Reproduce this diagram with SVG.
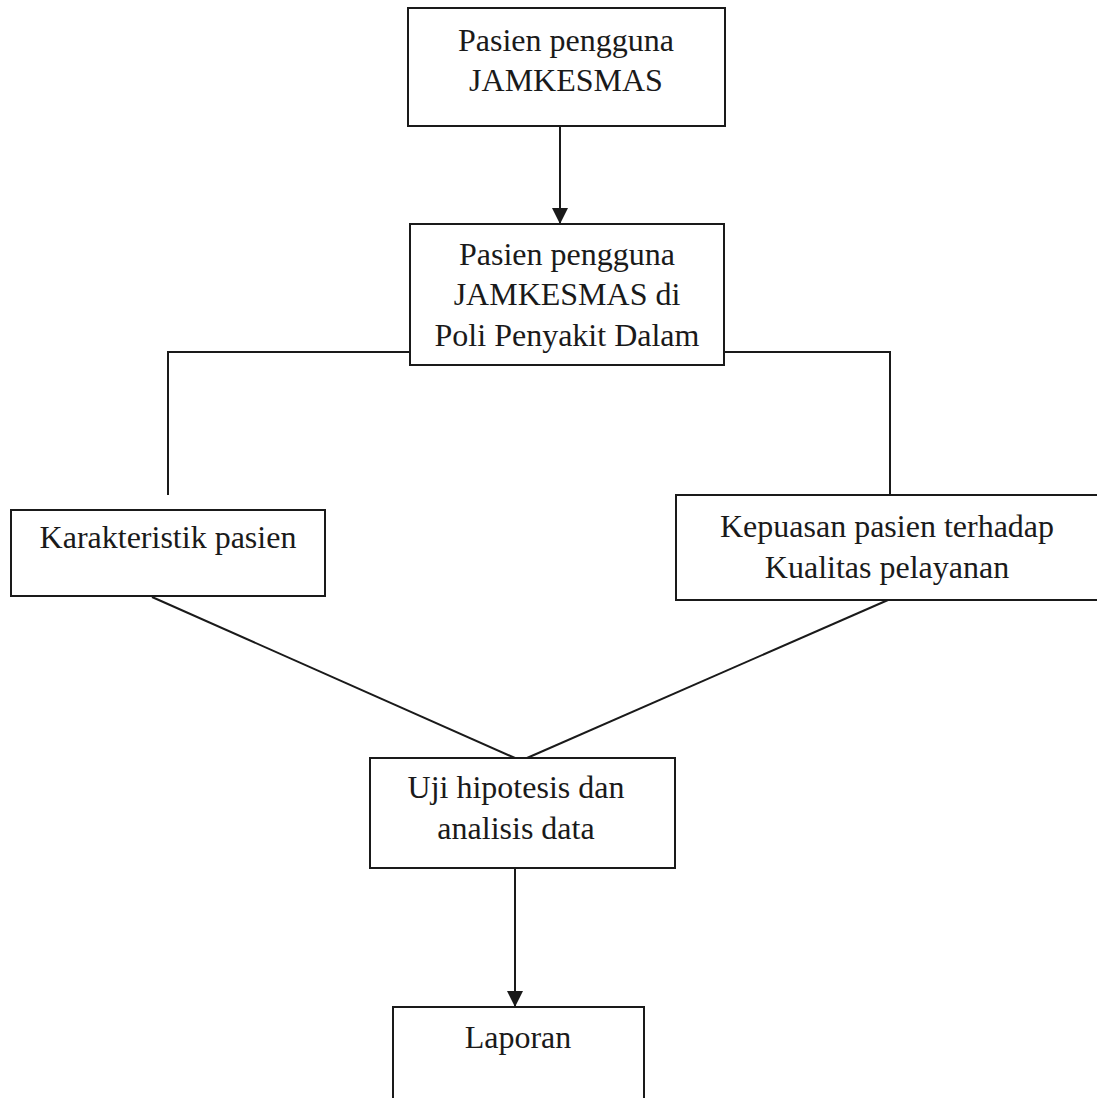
<svg xmlns="http://www.w3.org/2000/svg" width="1097" height="1098" viewBox="0 0 1097 1098">
<defs>
<style>
.box{fill:#fff;stroke:#1a1a1a;stroke-width:2}
.t{font-family:"Liberation Serif","Times New Roman",serif;font-size:32px;fill:#1a1a1a;text-anchor:middle}
.c{fill:none;stroke:#1a1a1a;stroke-width:2}
</style>
<marker id="ah" viewBox="0 0 10 10" refX="10" refY="5" markerWidth="16" markerHeight="16" markerUnits="userSpaceOnUse" orient="auto">
<path d="M0,0 L10,5 L0,10 Z" fill="#1a1a1a"/>
</marker>
</defs>
<rect width="1097" height="1098" fill="#fff"/>
<g id="connectors">
<line class="c" x1="560" y1="126" x2="560" y2="224" marker-end="url(#ah)"/>
<polyline class="c" points="410,352 168,352 168,495"/>
<polyline class="c" points="724,352 890,352 890,505"/>
<line class="c" x1="152" y1="597" x2="515" y2="758"/>
<line class="c" x1="888" y1="600" x2="527" y2="758"/>
<line class="c" x1="515" y1="868" x2="515" y2="1007" marker-end="url(#ah)"/>
</g>
<g id="node1">
<rect class="box" x="408" y="8" width="317" height="118"/>
<text class="t" x="566" y="51">Pasien pengguna</text>
<text class="t" x="566" y="91">JAMKESMAS</text>
</g>
<g id="node2">
<rect class="box" x="410" y="224" width="314" height="141"/>
<text class="t" x="567" y="265">Pasien pengguna</text>
<text class="t" x="567" y="305">JAMKESMAS di</text>
<text class="t" x="567" y="346">Poli Penyakit Dalam</text>
</g>
<g id="node3">
<rect class="box" x="11" y="510" width="314" height="86"/>
<text class="t" x="168" y="548">Karakteristik pasien</text>
</g>
<g id="node4">
<rect class="box" x="676" y="495" width="423" height="105"/>
<text class="t" x="887" y="537">Kepuasan pasien terhadap</text>
<text class="t" x="887" y="578">Kualitas pelayanan</text>
</g>
<g id="node5">
<rect class="box" x="370" y="758" width="305" height="110"/>
<text class="t" x="516" y="798">Uji hipotesis dan</text>
<text class="t" x="516" y="839">analisis data</text>
</g>
<g id="node6">
<rect class="box" x="393" y="1007" width="251" height="100"/>
<text class="t" x="518" y="1048">Laporan</text>
</g>
</svg>
